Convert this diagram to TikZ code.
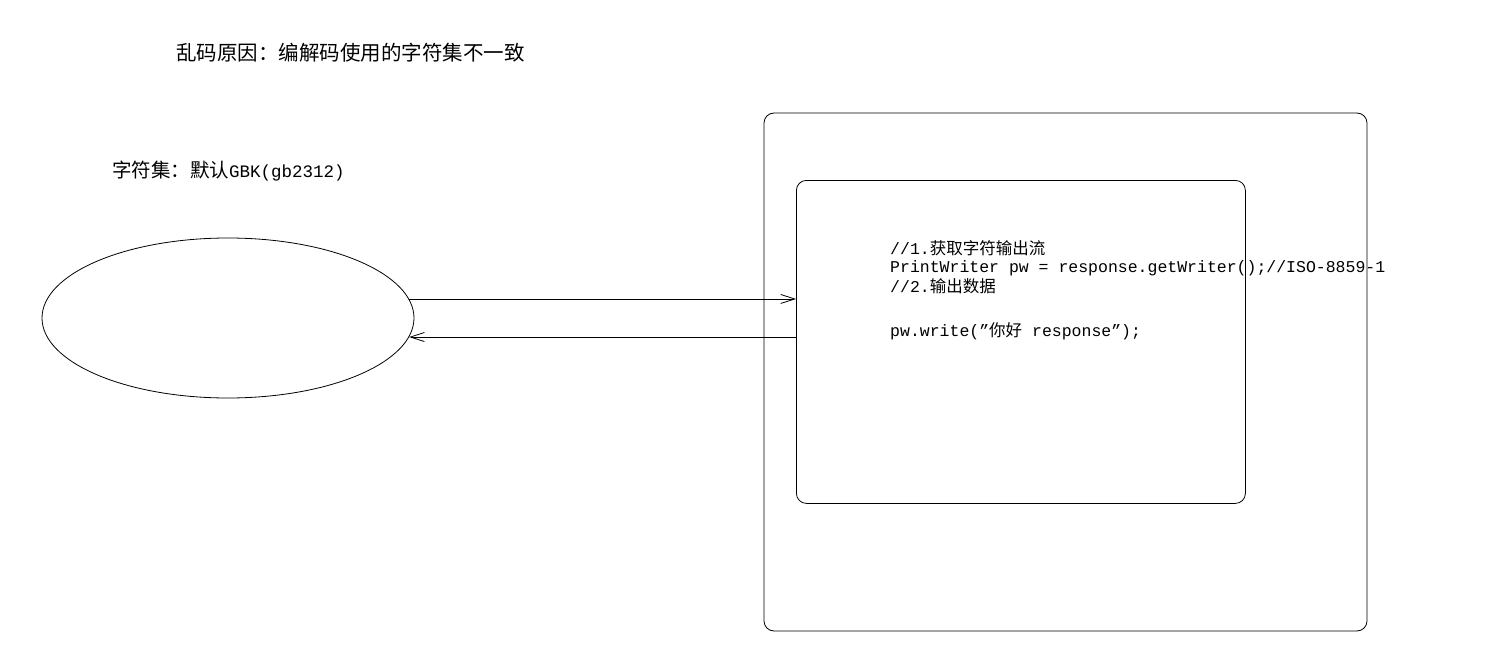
\documentclass[tikz,border=0pt]{standalone}
\usepackage{fontspec}
\setmonofont{Liberation Mono}
\newfontfamily\cjk{Noto Sans CJK SC}
\usetikzlibrary{positioning,shapes.geometric,arrows.meta}

\tikzset{
  box/.style={draw, rounded corners=10pt, line width=0.8pt},
  arr/.style={line width=0.8pt, -{Straight Barb[length=14pt,width=9pt]}},
  txt/.style={inner sep=0pt, anchor=base west},
  code/.style={txt, font=\ttfamily\fontsize{16.5}{19.5}\selectfont}
}

\begin{document}
\begin{tikzpicture}[x=1pt,y=-1pt]
  \useasboundingbox (0,0) rectangle (1494,650);

  % Überschrift
  \node[txt, font=\cjk\fontsize{20.5}{24}\selectfont] (title) at (176,61)
    {乱码原因：编解码使用的字符集不一致};

  % Browser - Zeichensatz
  \node[txt, font=\cjk\fontsize{19.5}{23}\selectfont] (charset) at (112,177)
    {字符集：默认{\ttfamily\fontsize{17.5}{21}\selectfont GBK(gb2312)}};
  \node[draw, ellipse, line width=0.8pt, inner sep=0pt,
        minimum width=372pt, minimum height=160pt] (ell) at (228,318) {};

  % Server
  \draw[box] (764,113) rectangle (1367,631);
  \node[box, inner sep=0pt, minimum width=449pt, minimum height=323pt,
        anchor=north west] (inner) at (796,180) {};

  % Code
  \node[code] (line1) at (890,254) {//1.{\cjk 获取字符输出流}};
  \node[code] (line2) at (890,272) {PrintWriter pw = response.getWriter();//ISO-8859-1};
  \node[code] (line3) at (890,292) {//2.{\cjk 输出数据}};
  \node[code] (line4) at (890,336) {pw.write(”{\cjk 你好} response”);};

  % Anfrage und Antwort
  \draw[arr] (ell.6) -- (ell.6 -| inner.west);
  \draw[arr] (ell.-6 -| inner.west) -- (ell.-6);
\end{tikzpicture}
\end{document}
